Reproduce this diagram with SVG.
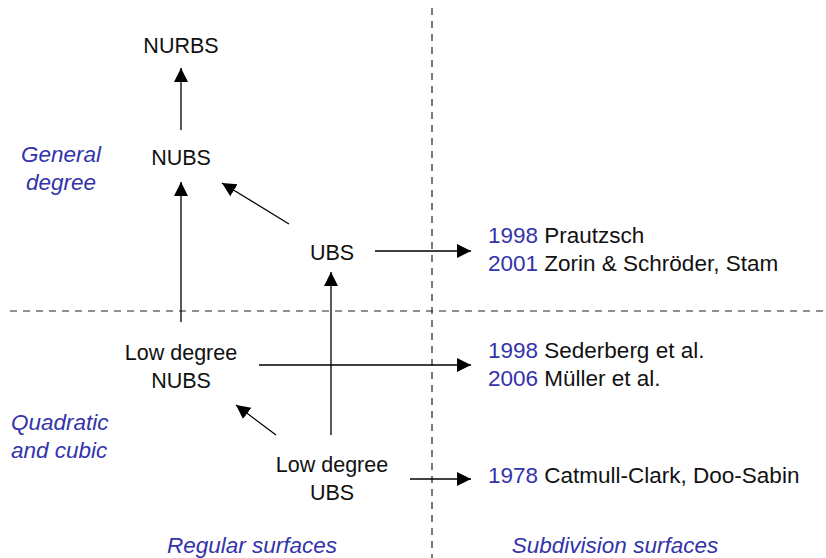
<svg xmlns="http://www.w3.org/2000/svg" width="826" height="558" viewBox="0 0 826 558">
<style>
text{font-family:"Liberation Sans","Open Sans",sans-serif;font-size:21.5px;fill:#111}
.c{text-anchor:middle}
.r{font-size:22.5px}
.b{fill:#3333aa}
.i{font-style:italic;fill:#3333aa;font-size:22.5px}
.e{stroke:#000;stroke-width:1.3;fill:none}
.d{stroke:#222;stroke-width:1.2;stroke-dasharray:7 6;fill:none}
</style>
<defs>
<marker id="ah" markerUnits="userSpaceOnUse" markerWidth="16" markerHeight="16" refX="14" refY="7" orient="auto">
<path d="M0,0 L14,7 L0,14 Z" fill="#000"/>
</marker>
</defs>
<rect width="826" height="558" fill="#fff"/>
<g id="grid">
<line class="d" x1="10" y1="311" x2="826" y2="311"/>
<line class="d" x1="432" y1="8" x2="432" y2="558"/>
</g>
<g id="connectors">
<line class="e" x1="181" y1="130" x2="181" y2="68" marker-end="url(#ah)"/>
<line class="e" x1="181" y1="322" x2="181" y2="182" marker-end="url(#ah)"/>
<line class="e" x1="289" y1="224" x2="222" y2="183" marker-end="url(#ah)"/>
<line class="e" x1="375" y1="251" x2="471" y2="251" marker-end="url(#ah)"/>
<line class="e" x1="331" y1="435" x2="331" y2="272" marker-end="url(#ah)"/>
<line class="e" x1="259" y1="365" x2="471" y2="365" marker-end="url(#ah)"/>
<line class="e" x1="276" y1="435" x2="236" y2="405" marker-end="url(#ah)"/>
<line class="e" x1="410" y1="479" x2="471" y2="479" marker-end="url(#ah)"/>
</g>
<g id="nurbs"><text class="c" x="181" y="53">NURBS</text></g>
<g id="nubs"><text class="c" x="181" y="165">NUBS</text></g>
<g id="ubs"><text class="c" x="332" y="260">UBS</text></g>
<g id="lownubs"><text class="c" x="181" y="360">Low degree</text><text class="c" x="181" y="388">NUBS</text></g>
<g id="lowubs"><text class="c" x="332" y="472">Low degree</text><text class="c" x="332" y="500">UBS</text></g>
<g id="ref-ubs"><text class="r" x="488" y="243"><tspan class="b">1998</tspan> Prautzsch</text><text class="r" x="488" y="271"><tspan class="b">2001</tspan> Zorin &amp; Schröder, Stam</text></g>
<g id="ref-nubs"><text class="r" x="488" y="358"><tspan class="b">1998</tspan> Sederberg et al.</text><text class="r" x="488" y="386"><tspan class="b">2006</tspan> Müller et al.</text></g>
<g id="ref-lowubs"><text class="r" x="488" y="483"><tspan class="b">1978</tspan> Catmull-Clark, Doo-Sabin</text></g>
<g id="labels">
<text class="i c" x="61" y="162">General</text>
<text class="i c" x="61" y="190">degree</text>
<text class="i" x="11" y="430">Quadratic</text>
<text class="i" x="11" y="458">and cubic</text>
<text class="i c" x="252" y="553">Regular surfaces</text>
<text class="i c" x="615" y="553">Subdivision surfaces</text>
</g>
</svg>
